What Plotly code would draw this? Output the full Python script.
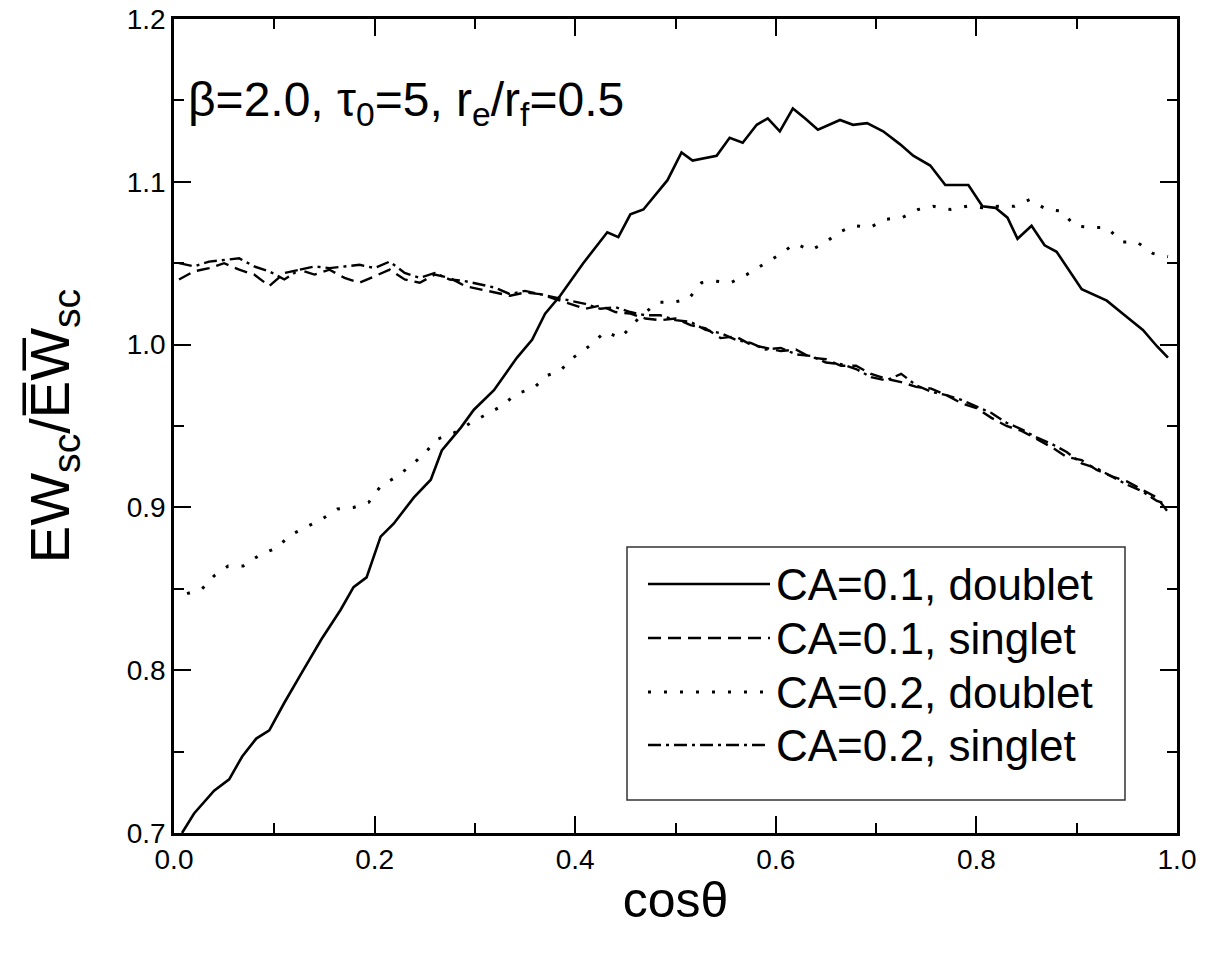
import plotly.graph_objects as go

# ---------------- data ----------------
ca01_doublet_x = [0.008, 0.020, 0.040, 0.055, 0.068, 0.082, 0.095, 0.110, 0.127, 0.147,
                  0.166, 0.179, 0.192, 0.206, 0.219, 0.239, 0.256, 0.267, 0.286, 0.299,
                  0.319, 0.342, 0.357, 0.370, 0.385, 0.408, 0.432, 0.443, 0.455, 0.468,
                  0.492, 0.506, 0.517, 0.541, 0.554, 0.567, 0.581, 0.592, 0.604, 0.617,
                  0.629, 0.642, 0.664, 0.677, 0.691, 0.707, 0.724, 0.737, 0.754, 0.769,
                  0.792, 0.806, 0.819, 0.831, 0.841, 0.855, 0.868, 0.880, 0.905, 0.930,
                  0.946, 0.966, 0.980, 0.991]
ca01_doublet_y = [0.700, 0.712, 0.726, 0.733, 0.747, 0.758, 0.763, 0.780, 0.798, 0.819,
                  0.837, 0.851, 0.857, 0.882, 0.890, 0.906, 0.917, 0.935, 0.949, 0.960,
                  0.972, 0.992, 1.003, 1.019, 1.030, 1.050, 1.069, 1.066, 1.080, 1.083,
                  1.101, 1.118, 1.113, 1.116, 1.127, 1.124, 1.135, 1.139, 1.131, 1.145,
                  1.139, 1.132, 1.138, 1.135, 1.136, 1.131, 1.123, 1.116, 1.110, 1.098,
                  1.098, 1.085, 1.084, 1.078, 1.065, 1.073, 1.061, 1.057, 1.034, 1.027,
                  1.019, 1.009, 0.999, 0.992]

ca02_doublet_x = [0.013, 0.028, 0.040, 0.054, 0.069, 0.086, 0.102, 0.116, 0.132, 0.148,
                  0.163, 0.179, 0.194, 0.206, 0.222, 0.237, 0.251, 0.263, 0.280, 0.296,
                  0.311, 0.326, 0.342, 0.358, 0.372, 0.385, 0.398, 0.414, 0.430, 0.445,
                  0.463, 0.482, 0.498, 0.513, 0.526, 0.539, 0.555, 0.571, 0.587, 0.603,
                  0.619, 0.635, 0.650, 0.663, 0.678, 0.694, 0.710, 0.726, 0.742, 0.757,
                  0.774, 0.791, 0.806, 0.822, 0.838, 0.853, 0.870, 0.885, 0.898, 0.914,
                  0.930, 0.945, 0.960, 0.976, 0.991]
ca02_doublet_y = [0.847, 0.850, 0.858, 0.864, 0.864, 0.871, 0.875, 0.883, 0.888, 0.893,
                  0.899, 0.900, 0.903, 0.913, 0.919, 0.926, 0.934, 0.942, 0.946, 0.952,
                  0.957, 0.962, 0.970, 0.973, 0.981, 0.984, 0.992, 0.999, 1.008, 1.004,
                  1.016, 1.026, 1.026, 1.028, 1.038, 1.039, 1.038, 1.043, 1.049, 1.055,
                  1.062, 1.058, 1.063, 1.069, 1.073, 1.072, 1.077, 1.078, 1.083, 1.085,
                  1.083, 1.085, 1.084, 1.085, 1.085, 1.089, 1.083, 1.082, 1.073, 1.072,
                  1.072, 1.063, 1.063, 1.056, 1.054]

singlet_x = [0.005, 0.020, 0.035, 0.050, 0.065, 0.080, 0.095, 0.110, 0.125, 0.140,
             0.155, 0.170, 0.185, 0.200, 0.215, 0.230, 0.245, 0.260, 0.275, 0.290,
             0.305, 0.320, 0.335, 0.350, 0.365, 0.380, 0.395, 0.410, 0.425, 0.440,
             0.455, 0.470, 0.485, 0.500, 0.515, 0.530, 0.545, 0.560, 0.575, 0.590,
             0.605, 0.620, 0.635, 0.650, 0.665, 0.680, 0.695, 0.710, 0.725, 0.740,
             0.755, 0.770, 0.785, 0.800, 0.815, 0.830, 0.845, 0.860, 0.875, 0.890,
             0.905, 0.920, 0.935, 0.950, 0.965, 0.980, 0.990]
ca01_singlet_y = [1.040, 1.045, 1.047, 1.050, 1.046, 1.043, 1.036, 1.044, 1.046, 1.043,
                  1.046, 1.041, 1.038, 1.042, 1.046, 1.040, 1.038, 1.043, 1.041, 1.036,
                  1.034, 1.032, 1.030, 1.032, 1.031, 1.028, 1.025, 1.022, 1.024, 1.020,
                  1.019, 1.016, 1.015, 1.016, 1.012, 1.010, 1.004, 1.005, 1.000, 0.998,
                  0.996, 0.997, 0.992, 0.991, 0.987, 0.987, 0.982, 0.979, 0.977, 0.974,
                  0.973, 0.969, 0.964, 0.961, 0.955, 0.950, 0.947, 0.942, 0.937, 0.931,
                  0.929, 0.923, 0.919, 0.916, 0.911, 0.906, 0.898]
ca02_singlet_y = [1.050, 1.048, 1.051, 1.052, 1.053, 1.048, 1.045, 1.040, 1.046, 1.048,
                  1.047, 1.048, 1.049, 1.047, 1.051, 1.044, 1.041, 1.044, 1.040, 1.039,
                  1.037, 1.035, 1.031, 1.033, 1.031, 1.029, 1.027, 1.025, 1.022, 1.023,
                  1.020, 1.018, 1.018, 1.015, 1.014, 1.009, 1.007, 1.003, 1.001, 0.997,
                  0.998, 0.994, 0.993, 0.989, 0.988, 0.985, 0.980, 0.978, 0.982, 0.975,
                  0.971, 0.969, 0.966, 0.962, 0.958, 0.952, 0.948, 0.943, 0.939, 0.934,
                  0.927, 0.924, 0.919, 0.914, 0.910, 0.904, 0.902]

series_names = ["CA=0.1, doublet", "CA=0.1, singlet", "CA=0.2, doublet", "CA=0.2, singlet"]
x_tick_vals = [0.0, 0.2, 0.4, 0.6, 0.8, 1.0]
y_tick_vals = [0.7, 0.8, 0.9, 1.0, 1.1, 1.2]

# ---------------- styling ----------------
FONT = "Liberation Sans, Arial, Helvetica, sans-serif"
W, H = 1209, 958
# target plot box on the page: x 174..1177, y 19..833
P_L, P_R, P_T, P_B = 174, 1177, 19, 833
ML, MT = P_L, P_T
MR = W - P_R
MB = H - P_B
PW, PH = P_R - P_L, P_B - P_T

styles = [
    dict(color="black", width=2.6, dash="solid"),
    dict(color="black", width=2.4, dash="13px,7px"),
    dict(color="black", width=3.0, dash="3px,13px"),
    dict(color="black", width=2.4, dash="13px,5px,3px,5px"),
]
series = [
    (ca01_doublet_x, ca01_doublet_y),
    (singlet_x, ca01_singlet_y),
    (ca02_doublet_x, ca02_doublet_y),
    (singlet_x, ca02_singlet_y),
]

fig = go.Figure()
for (xs, ys), name, st in zip(series, series_names, styles):
    fig.add_trace(go.Scatter(x=xs, y=ys, mode="lines", name=name, line=st,
                             showlegend=False))


def px_x(p):
    return (p - P_L) / PW


def px_y(p):
    return (P_B - p) / PH


# custom legend (long line samples as in the reference)
box_l, box_r, box_t, box_b = 627, 1125, 547, 800
fig.add_shape(type="rect", xref="paper", yref="paper",
              x0=px_x(box_l), x1=px_x(box_r), y0=px_y(box_b), y1=px_y(box_t),
              line=dict(color="#333333", width=1.5), fillcolor="white", layer="above")
row_y = [584, 638, 692, 745]
for ry, name, st in zip(row_y, series_names, styles):
    fig.add_shape(type="line", xref="paper", yref="paper",
                  x0=px_x(648), x1=px_x(770), y0=px_y(ry), y1=px_y(ry),
                  line=st, layer="above")
    fig.add_annotation(xref="paper", yref="paper", x=px_x(774), y=px_y(ry),
                       xanchor="left", yanchor="middle", showarrow=False,
                       text=name, font=dict(family=FONT, size=44, color="black"))

# parameter annotation
fig.add_annotation(xref="paper", yref="paper", x=px_x(186), y=px_y(103),
                   xanchor="left", yanchor="middle", showarrow=False,
                   text="β=2.0, τ<sub>0</sub>=5, r<sub>e</sub>/r<sub>f</sub>=0.5",
                   font=dict(family=FONT, size=48, color="black"))

axis_common = dict(
    showline=True, linecolor="black", linewidth=2.6, mirror="ticks",
    ticks="inside", ticklen=17, tickwidth=2.2, tickcolor="black",
    showgrid=False, zeroline=False, tickformat=".1f",
    ticklabeloverflow="allow",
    tickfont=dict(family=FONT, size=28, color="black"),
)

fig.update_xaxes(range=[0, 1], tickvals=x_tick_vals,
                 minor=dict(ticks="inside", dtick=0.1, ticklen=10, tickwidth=2.2,
                            tickcolor="black", showgrid=False),
                 title=dict(text="cosθ", font=dict(family=FONT, size=50, color="black"),
                            standoff=8),
                 **axis_common)
fig.update_yaxes(range=[0.7, 1.2], tickvals=y_tick_vals,
                 minor=dict(ticks="inside", dtick=0.05, ticklen=10, tickwidth=2.2,
                            tickcolor="black", showgrid=False),
                 title=dict(text="EW<sub>sc</sub>/E\u0305W\u0305<sub>sc</sub>",
                            font=dict(family=FONT, size=56, color="black"),
                            standoff=40),
                 **axis_common)

fig.update_layout(
    width=W, height=H,
    margin=dict(l=ML, r=MR, t=MT, b=MB, autoexpand=False),
    paper_bgcolor="white", plot_bgcolor="white",
    showlegend=False,
)

fig.write_html("out.html", config={"displayModeBar": False},
               post_script="document.body.style.margin='0';document.body.style.overflow='hidden';")
